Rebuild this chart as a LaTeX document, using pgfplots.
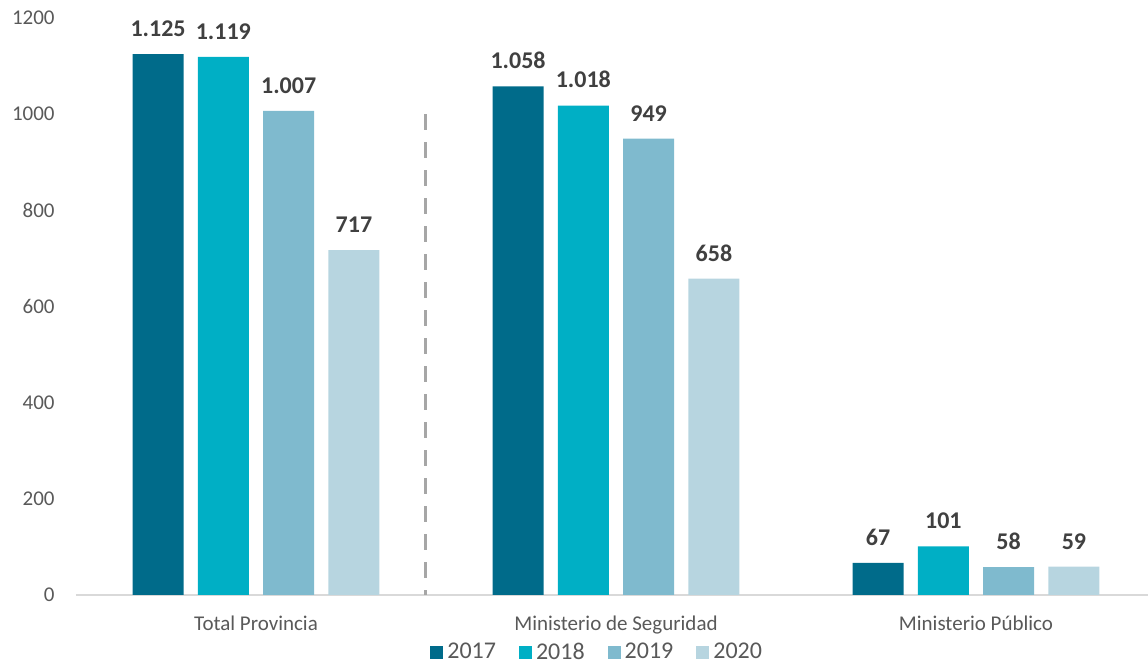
\documentclass[border=0pt]{standalone}
\usepackage{pgfplots}
\pgfplotsset{compat=1.18}
\usepackage{fontspec}
\setmainfont{Carlito}

\definecolor{c17}{HTML}{006B8A}
\definecolor{c18}{HTML}{00AFC5}
\definecolor{c19}{HTML}{7FBACE}
\definecolor{c20}{HTML}{B7D5E0}
\definecolor{lbl}{HTML}{404040}
\definecolor{tck}{HTML}{595959}

\begin{document}
\begin{tikzpicture}
  \begin{axis}[
    name=ax,
    scale only axis,
    width=540pt, height=288.5pt,
    xmin=-0.5, xmax=2.5,
    ymin=0, ymax=1200,
    ybar=7.15pt,
    bar width=25.5pt,
    axis x line*=bottom,
    axis y line*=left,
    x axis line style={draw=black!15, line width=0.8pt},
    y axis line style={draw=none},
    tick style={draw=none},
    xtick={0,1,2},
    xticklabels={Total Provincia, Ministerio de Seguridad, Ministerio Público},
    ytick={0,200,...,1200},
    /pgf/number format/assume math mode=true,
    ticklabel style={font=\fontsize{10.5}{12}\selectfont, text=tck},
    yticklabel style={/pgf/number format/1000 sep={}, anchor=east, inner sep=0pt, xshift=-10.5pt},
    xticklabel style={anchor=base, inner sep=0pt, yshift=-13.5pt},
    nodes near coords,
    nodes near coords style={/pgf/number format/1000 sep={.}, font=\fontsize{12}{14}\selectfont\bfseries,
      text=lbl, anchor=south, inner sep=0pt, yshift=8.5pt},
    legend columns=4,
    legend style={draw=none, at={(0.4835,-0.1)}, anchor=center,
      font=\fontsize{12}{14}\selectfont, text=tck,
      /tikz/every even column/.append style={column sep=9.5pt}},
    legend image code/.code={\fill[#1] (0pt,-3.25pt) rectangle (6.5pt,3.25pt);},
  ]
    \addplot[fill=c17, draw=none] coordinates {(0,1125) (1,1058) (2,67)};
    \addplot[fill=c18, draw=none] coordinates {(0,1119) (1,1018) (2,101)};
    \addplot[fill=c19, draw=none] coordinates {(0,1007) (1,949) (2,58)};
    \addplot[fill=c20, draw=none] coordinates {(0,717) (1,658) (2,59)};
    \legend{2017,2018,2019,2020}
    \draw[black!35, line width=1.5pt, dash pattern=on 8pt off 6pt]
      (axis cs:0.471,1000) -- (axis cs:0.471,0);
  \end{axis}
  \pgfresetboundingbox
  \path[use as bounding box] ([xshift=-38pt,yshift=-34.5pt]ax.south west)
    rectangle ([xshift=536pt,yshift=297.5pt]ax.south west);
\end{tikzpicture}
\end{document}
